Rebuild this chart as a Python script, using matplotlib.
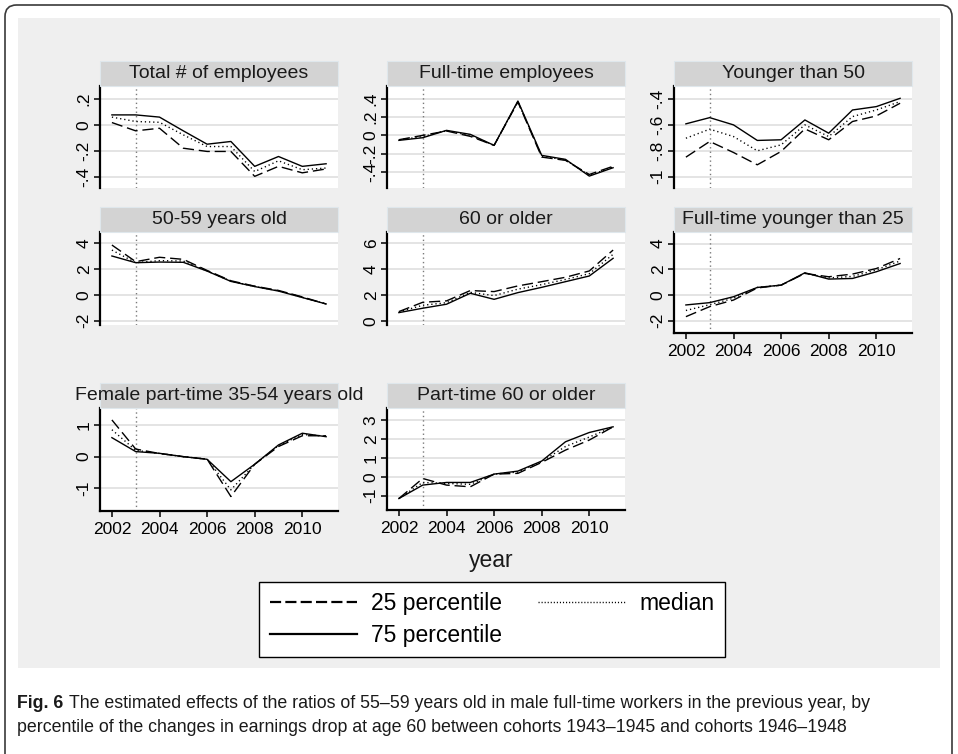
import numpy as np
import matplotlib
matplotlib.use("Agg")
import matplotlib.pyplot as plt
from matplotlib.lines import Line2D
from matplotlib.patches import Rectangle, FancyBboxPatch
from matplotlib import font_manager

plt.rcParams['font.family'] = ['Liberation Sans', 'DejaVu Sans']

years = [2002, 2003, 2004, 2005, 2006, 2007, 2008, 2009, 2010, 2011]
xticks = [2002, 2004, 2006, 2008, 2010]

titles = ["Total # of employees", "Full-time employees", "Younger than 50",
          "50-59 years old", "60 or older", "Full-time younger than 25",
          "Female part-time 35-54 years old", "Part-time 60 or older"]

# 25 percentile / median / 75 percentile
p25_total = [0.018, -0.046, -0.026, -0.18, -0.205, -0.205, -0.397, -0.32, -0.37, -0.34]
p50_total = [0.06, 0.026, 0.02, -0.077, -0.167, -0.167, -0.36, -0.277, -0.346, -0.333]
p75_total = [0.077, 0.077, 0.06, -0.046, -0.149, -0.128, -0.32, -0.244, -0.32, -0.30]

p25_fulltime = [-0.048, 0.0, 0.048, -0.011, -0.11, 0.367, -0.239, -0.275, -0.43, -0.34]
p50_fulltime = [-0.05, -0.013, 0.05, 0.0, -0.11, 0.372, -0.23, -0.27, -0.44, -0.348]
p75_fulltime = [-0.055, -0.026, 0.055, 0.011, -0.11, 0.378, -0.22, -0.264, -0.448, -0.356]

p25_young50 = [-0.849, -0.728, -0.813, -0.908, -0.805, -0.631, -0.715, -0.574, -0.531, -0.433]
p50_young50 = [-0.703, -0.633, -0.69, -0.80, -0.754, -0.60, -0.69, -0.536, -0.485, -0.42]
p75_young50 = [-0.592, -0.544, -0.60, -0.72, -0.715, -0.562, -0.664, -0.485, -0.459, -0.395]

p25_age5059 = [3.87, 2.58, 2.92, 2.76, 1.9, 1.1, 0.68, 0.35, -0.15, -0.7]
p50_age5059 = [3.48, 2.5, 2.66, 2.63, 1.86, 1.07, 0.66, 0.32, -0.18, -0.7]
p75_age5059 = [3.02, 2.5, 2.55, 2.53, 1.85, 1.05, 0.65, 0.30, -0.2, -0.7]

p25_age60 = [0.71, 1.43, 1.54, 2.34, 2.26, 2.70, 3.03, 3.37, 3.86, 5.48]
p50_age60 = [0.68, 1.20, 1.40, 2.20, 1.95, 2.45, 2.80, 3.20, 3.65, 5.15]
p75_age60 = [0.63, 0.97, 1.28, 2.13, 1.66, 2.18, 2.59, 3.03, 3.47, 4.84]

p25_ft25 = [-1.68, -0.9, -0.39, 0.55, 0.77, 1.68, 1.42, 1.63, 2.06, 2.84]
p50_ft25 = [-1.2, -0.75, -0.25, 0.59, 0.77, 1.70, 1.33, 1.45, 1.95, 2.65]
p75_ft25 = [-0.77, -0.59, -0.13, 0.59, 0.77, 1.73, 1.24, 1.29, 1.81, 2.45]

p25_fpt = [1.16, 0.24, 0.1, 0.0, -0.08, -1.26, -0.24, 0.32, 0.66, 0.66]
p50_fpt = [0.85, 0.2, 0.1, 0.0, -0.08, -1.05, -0.24, 0.35, 0.70, 0.65]
p75_fpt = [0.60, 0.16, 0.105, 0.0, -0.084, -0.79, -0.24, 0.37, 0.74, 0.63]

p25_pt60 = [-1.15, -0.09, -0.44, -0.53, 0.14, 0.18, 0.76, 1.41, 1.94, 2.64]
p50_pt60 = [-1.15, -0.30, -0.35, -0.40, 0.14, 0.25, 0.80, 1.60, 2.10, 2.64]
p75_pt60 = [-1.15, -0.44, -0.30, -0.30, 0.14, 0.30, 0.83, 1.85, 2.34, 2.64]

yticks_list = [[-.4, -.2, 0, .2], [-.4, -.2, 0, .2, .4], [-1, -.8, -.6, -.4],
               [-2, 0, 2, 4], [0, 2, 4, 6], [-2, 0, 2, 4],
               [-1, 0, 1], [-1, 0, 1, 2, 3]]

series = [(p25_total, p50_total, p75_total), (p25_fulltime, p50_fulltime, p75_fulltime),
          (p25_young50, p50_young50, p75_young50), (p25_age5059, p50_age5059, p75_age5059),
          (p25_age60, p50_age60, p75_age60), (p25_ft25, p50_ft25, p75_ft25),
          (p25_fpt, p50_fpt, p75_fpt), (p25_pt60, p50_pt60, p75_pt60)]

# layout in pixels: left, top, bottom of plot region, ylim, has x axis
W, H = 958, 754
PW = 238
layout = [(100, 86, 188, (-0.487, 0.300), False),
          (387, 86, 188, (-0.579, 0.543), False),
          (674, 86, 188, (-1.087, -0.300), False),
          (100, 232, 325, (-2.33, 4.88), False),
          (387, 232, 325, (-0.33, 6.88), False),
          (674, 232, 333, (-2.95, 4.90), True),
          (100, 408, 511, (-1.717, 1.537), True),
          (387, 408, 510, (-1.756, 3.634), True)]


def stata_fmt(v):
    s = f"{v:g}"
    if s.startswith("0."):
        s = s[1:]
    elif s.startswith("-0."):
        s = "-" + s[2:]
    return s


fig = plt.figure(figsize=(W / 100, H / 100), dpi=100)
fig.patch.set_facecolor('white')

# outer frame + grey graph region
fig.add_artist(FancyBboxPatch((5 / W, -0.05), 947 / W, 1 - 5 / H + 0.05,
                              boxstyle="round,pad=0,rounding_size=0.012",
                              mutation_aspect=W / H,
                              transform=fig.transFigure, fc='white', ec='#3a3a3a',
                              lw=1.2, zorder=-3))
fig.add_artist(Rectangle((18 / W, 1 - 668 / H), 922 / W, 650 / H, transform=fig.transFigure,
                         fc='#efefef', ec='none', zorder=-2))

for i, (title, (s25, s50, s75), yt, (x0, top, bot, ylim, has_x)) in enumerate(
        zip(titles, series, yticks_list, layout)):
    ax = fig.add_axes([x0 / W, 1 - bot / H, PW / W, (bot - top) / H])
    ax.set_facecolor('white')
    ax.plot(years, s25, color='black', lw=1.0, dashes=(8, 3.5))
    ax.plot(years, s50, color='black', lw=1.0, dashes=(0.9, 2.1))
    ax.plot(years, s75, color='black', lw=1.0)
    ax.axvline(2003, color='#7a7a7a', lw=1.0, dashes=(1, 2.2), zorder=1.5)
    ax.set_xlim(2001.5, 2011.5)
    ax.set_ylim(*ylim)
    ax.set_yticks(yt)
    ax.set_yticklabels([stata_fmt(t) for t in yt], rotation=90, va='center')
    ax.yaxis.grid(True, color='#e4e4e4', lw=1.4)
    ax.set_axisbelow(True)
    for sp in ['top', 'right']:
        ax.spines[sp].set_visible(False)
    ax.spines['left'].set_linewidth(1.6)
    ax.tick_params(axis='y', direction='out', length=4, width=1.1, labelsize=12.5, pad=2,
                   colors='black')
    if has_x:
        ax.set_xticks(xticks)
        ax.spines['bottom'].set_linewidth(1.6)
        ax.tick_params(axis='x', direction='out', length=4, width=1.1, labelsize=12.5, pad=4)
    else:
        ax.set_xticks([])
        ax.spines['bottom'].set_visible(False)

    # strip header
    fig.add_artist(Rectangle((x0 / W, 1 - top / H), PW / W, 25 / H, transform=fig.transFigure,
                             fc='#d3d3d3', ec='#dfe7ec', lw=0.8))
    fig.text((x0 + PW / 2) / W, 1 - (top - 12.5) / H, title, ha='center', va='center',
             fontsize=14, color='#1a1a1a')

fig.text(491 / W, 1 - 560 / H, 'year', ha='center', va='center', fontsize=16.5, color='#1a1a1a')

h25 = Line2D([], [], color='black', lw=1.6, dashes=(5, 1.9))
h75 = Line2D([], [], color='black', lw=1.6)
h50 = Line2D([], [], color='black', lw=1.0, dashes=(0.8, 1.4))
leg = fig.legend(handles=[h25, h75, h50], labels=['25 percentile', '75 percentile', 'median'],
                 ncol=2, loc='center', bbox_to_anchor=(492 / W, 1 - 619.5 / H),
                 fontsize=16.5, frameon=True, fancybox=False, edgecolor='black',
                 facecolor='white', framealpha=1, handlelength=3.8, handletextpad=0.6,
                 columnspacing=1.6, labelspacing=0.4, borderpad=0.45)
leg.get_frame().set_linewidth(1.0)

# caption
names = {f.name for f in font_manager.fontManager.ttflist}
cap_font = 'Liberation Sans Narrow' if 'Liberation Sans Narrow' in names else 'Liberation Sans'
line1 = "The estimated effects of the ratios of 55\u201359 years old in male full-time workers in the previous year, by"
line2 = "percentile of the changes in earnings drop at age 60 between cohorts 1943\u20131945 and cohorts 1946\u20131948"

fs = 12
t_bold = fig.text(17 / W, 1 - 703 / H, "Fig. 6", fontweight='bold', family=cap_font,
                  fontsize=fs, va='center', color='#1a1a1a')
t_l1 = fig.text(0, 1 - 703 / H, line1, family=cap_font, fontsize=fs, va='center', color='#1a1a1a')
t_l2 = fig.text(17 / W, 1 - 727 / H, line2, family=cap_font, fontsize=fs, va='center',
                color='#1a1a1a')
fig.canvas.draw()
r = fig.canvas.get_renderer()
wb = t_bold.get_window_extent(r).width
w1 = t_l1.get_window_extent(r).width
scale = (872 - 17) / (wb + 5 + w1)
fs = fs * scale
for t in (t_bold, t_l1, t_l2):
    t.set_fontsize(fs)
fig.canvas.draw()
wb = t_bold.get_window_extent(r).width
t_l1.set_x((17 + wb + 5 * scale) / W)

fig.savefig("out.png", dpi=100)
